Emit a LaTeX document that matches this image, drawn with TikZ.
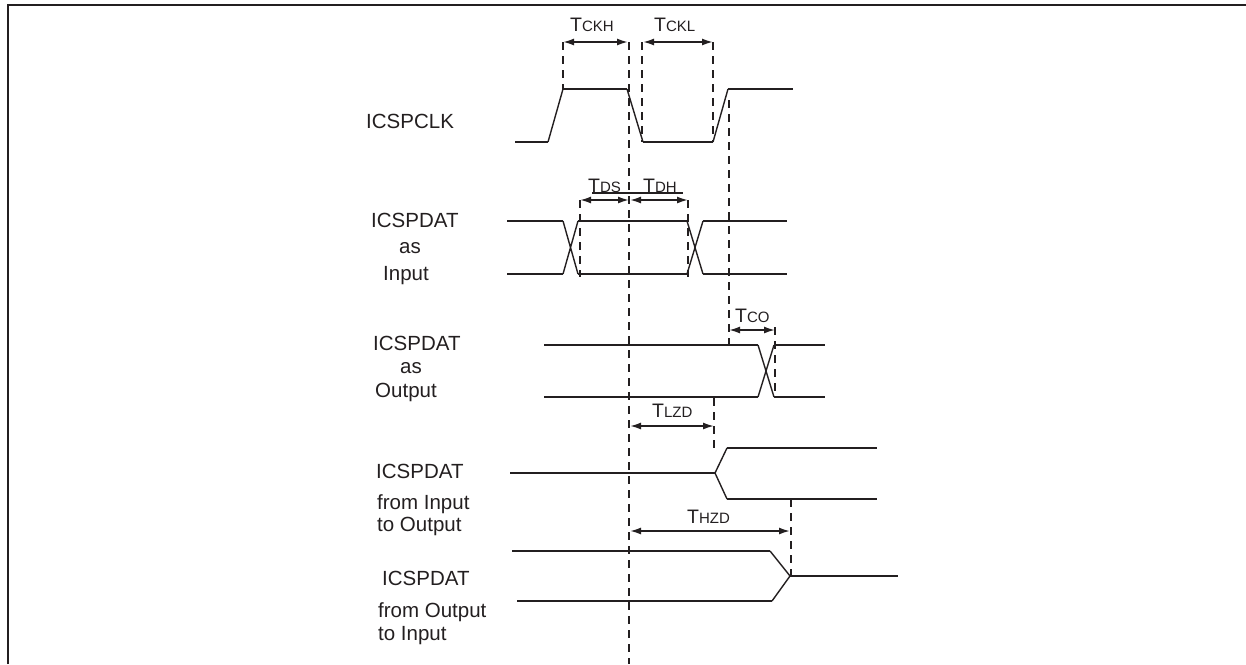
\documentclass[tikz,border=0pt]{standalone}
\usepackage{fontspec}
\setmainfont{Liberation Sans}
\usetikzlibrary{arrows.meta}
\definecolor{ink}{HTML}{231F20}
\newcommand{\mytl}[1]{T{\fontsize{15}{16}\selectfont #1}}
\begin{document}
\begin{tikzpicture}[x=1pt,y=-1pt,
  wave/.style={draw=ink,line width=2.4pt},
  slope/.style={draw=ink,line width=1.4pt},
  guide/.style={draw=ink,line width=2.3pt,dash pattern=on 8pt off 6pt},
  dim/.style={draw=ink,line width=1.7pt,{Latex[length=11pt,width=7pt]}-{Latex[length=11pt,width=7pt]}},
  lbl/.style={anchor=base west,inner sep=0pt,text=ink,font=\fontsize{20.5}{24}\selectfont},
  tlbl/.style={anchor=base west,inner sep=0pt,text=ink,font=\fontsize{19.5}{22}\selectfont}]
\useasboundingbox (0,0) rectangle (1246,664);
% frame
\draw[ink,line width=2.8pt] (8,664) -- (8,5) -- (1246,5);

% signal labels
\node[lbl] (lclk) at (366,128) {ICSPCLK};
\node[lbl] (lin1) at (371,227) {ICSPDAT};
\node[lbl] (lin2) at (399,253) {as};
\node[lbl] (lin3) at (383,280) {Input};
\node[lbl] (lout1) at (373,350) {ICSPDAT};
\node[lbl] (lout2) at (400,373) {as};
\node[lbl] (lout3) at (375,397) {Output};
\node[lbl] (lio1) at (376,478) {ICSPDAT};
\node[lbl] (lio2) at (377,509) {from Input};
\node[lbl] (lio3) at (377,531) {to Output};
\node[lbl] (loi1) at (382,585) {ICSPDAT};
\node[lbl] (loi2) at (378,617) {from Output};
\node[lbl] (loi3) at (378,640) {to Input};

% ICSPCLK
\draw[wave] (515,142) -- (548,142);
\draw[slope] (548,142) -- (563,89);
\draw[wave] (563,89) -- (627,89);
\draw[slope] (627,89) -- (643,142);
\draw[wave] (643,142) -- (713,142);
\draw[slope] (713,142) -- (728,89);
\draw[wave] (728,89) -- (793,89);

% ICSPDAT as input
\draw[wave] (507,221) -- (563,221) (507,274) -- (563,274);
\draw[slope] (563,221) -- (578,274) (563,274) -- (578,221);
\draw[wave] (578,221) -- (687,221) (578,274) -- (687,274);
\draw[slope] (687,221) -- (703,274) (687,274) -- (703,221);
\draw[wave] (703,221) -- (787,221) (703,274) -- (787,274);

% ICSPDAT as output
\draw[wave] (544,345) -- (758,345) (544,397) -- (758,397);
\draw[slope] (758,345) -- (774,397) (758,397) -- (774,345);
\draw[wave] (774,345) -- (825,345);
\draw[wave,line width=1.5pt] (774,397) -- (825,397);

% from input to output
\draw[wave] (510,473) -- (715,473);
\draw[slope] (715,473) -- (727,448) (715,473) -- (727,499);
\draw[wave] (727,448) -- (877,448) (727,499) -- (877,499);

% from output to input
\draw[wave] (512,551) -- (770,551) (517,601) -- (772,601);
\draw[slope] (770,551) -- (790,576) (772,601) -- (790,576);
\draw[wave] (790,576) -- (898,576);

% guide lines
\draw[guide] (563,42) -- (563,89);
\draw[guide] (629,42) -- (629,664);
\draw[guide] (642,42) -- (642,142);
\draw[guide] (713,42) -- (713,142);
\draw[guide] (729,100) -- (729,345);
\draw[guide] (580,200) -- (580,277);
\draw[guide] (688,200) -- (688,277);
\draw[guide] (775,327) -- (775,397);
\draw[guide] (714,398) -- (714,453);
\draw[guide] (791,499) -- (791,576);

% dimension arrows
\coordinate (ckh1) at (563,42); \coordinate (ckh2) at (628,42);
\coordinate (ckl1) at (643,42); \coordinate (ckl2) at (713,42);
\coordinate (ds1) at (580,200); \coordinate (ds2) at (629,200);
\coordinate (dh1) at (630,200); \coordinate (dh2) at (688,200);
\coordinate (co1) at (729,330); \coordinate (co2) at (775,330);
\coordinate (lz1) at (630,426); \coordinate (lz2) at (714,426);
\coordinate (hz1) at (630,531); \coordinate (hz2) at (790,531);
\draw[dim] (ckh1) -- (ckh2);
\draw[dim] (ckl1) -- (ckl2);
\draw[dim] (ds1) -- (ds2);
\draw[dim] (dh1) -- (dh2);
\draw[dim] (co1) -- (co2);
\draw[dim] (lz1) -- (lz2);
\draw[dim] (hz1) -- (hz2);

% timing labels
\node[tlbl] (tckh) at (570,31) {\mytl{CKH}};
\node[tlbl] (tckl) at (654,31) {\mytl{CKL}};
\node[tlbl] (tds) at (588,192) {\mytl{DS}};
\node[tlbl] (tdh) at (643,192) {\mytl{DH}};
\draw[ink,line width=1.5pt] (592,193) -- (683,193);
\node[tlbl] (tco) at (735,322) {\mytl{CO}};
\node[tlbl] (tlzd) at (652,417) {\mytl{LZD}};
\node[tlbl] (thzd) at (687,523) {\mytl{HZD}};
\end{tikzpicture}
\end{document}
